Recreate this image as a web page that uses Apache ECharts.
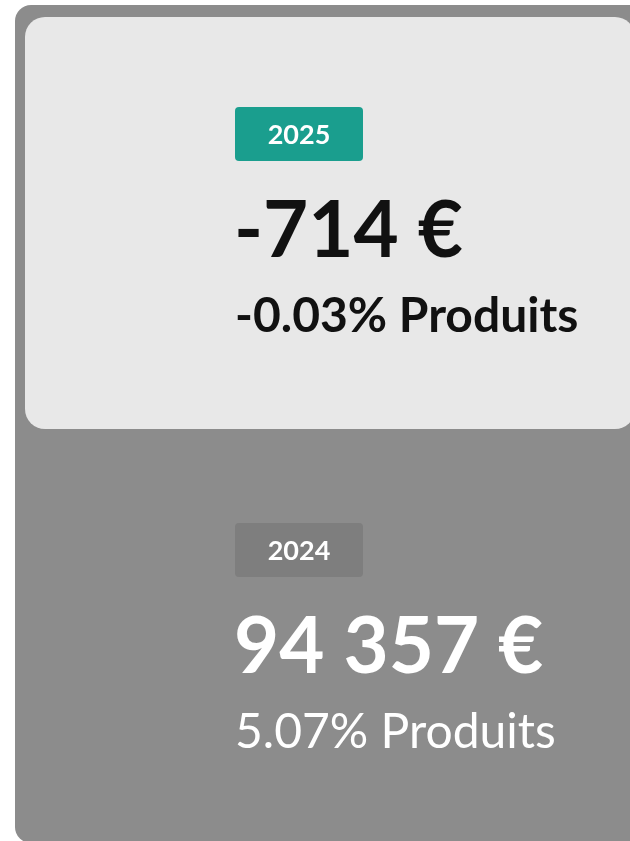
<!DOCTYPE html>
<html>
<head>
<meta charset="utf-8">
<script src="https://cdn.jsdelivr.net/npm/echarts@6/dist/echarts.min.js"></script>
<style>
  html, body { margin: 0; padding: 0; background: #ffffff; }
  #kpi { width: 630px; height: 841px; }
</style>
</head>
<body>
<div id="kpi"></div>
<script>
// values read from the card
const years = ["2025", "2024"];
const amounts = [-714, 94357];
const shares = [-0.03, 5.07];
const shareLabel = "Produits";

function fmtEuro(v) {
  const s = Math.abs(v).toString().replace(/\B(?=(\d{3})+(?!\d))/g, " ");
  return (v < 0 ? "-" : "") + s + " €";
}

const FONT = "Lato, 'Open Sans', sans-serif";

// one block per year: top is the current one (light), bottom is previous (on gray)
const blocks = [
  { top: 107, badge: "#1a9e8e", value: "#111111", share: "#111111", shareWeight: "bold" },
  { top: 523, badge: "#7e7e7e", value: "#ffffff", share: "#ffffff", shareWeight: "normal" },
];

const graphic = [
  {
    type: "rect",
    shape: { x: 15, y: 5, width: 660, height: 838, r: 16 },
    style: { fill: "#8c8c8c" },
  },
  {
    type: "rect",
    shape: { x: 25, y: 17, width: 610, height: 412, r: 20 },
    style: { fill: "#e8e8e8" },
  },
];

blocks.forEach((b, i) => {
  graphic.push({
    type: "rect",
    shape: { x: 235, y: b.top, width: 128, height: 54, r: 4 },
    style: { fill: b.badge },
  });
  graphic.push({
    type: "text",
    x: 299,
    y: b.top + 28,
    style: {
      text: years[i],
      fill: "#ffffff",
      font: "bold 27px " + FONT,
      align: "center",
      verticalAlign: "middle",
    },
  });
  graphic.push({
    type: "text",
    x: 234,
    y: b.top + 125,
    style: {
      text: fmtEuro(amounts[i]),
      fill: b.value,
      font: "bold 78px " + FONT,
      align: "left",
      verticalAlign: "middle",
    },
  });
  graphic.push({
    type: "text",
    x: 235,
    y: b.top + 210,
    style: {
      text: shares[i].toFixed(2) + "% " + shareLabel,
      fill: b.share,
      font: b.shareWeight + " 48px " + FONT,
      align: "left",
      verticalAlign: "middle",
    },
  });
});

const chart = echarts.init(document.getElementById("kpi"), null, { renderer: "canvas" });
chart.setOption({
  animation: false,
  graphic: graphic,
});
window.addEventListener("resize", () => chart.resize());
</script>
</body>
</html>
